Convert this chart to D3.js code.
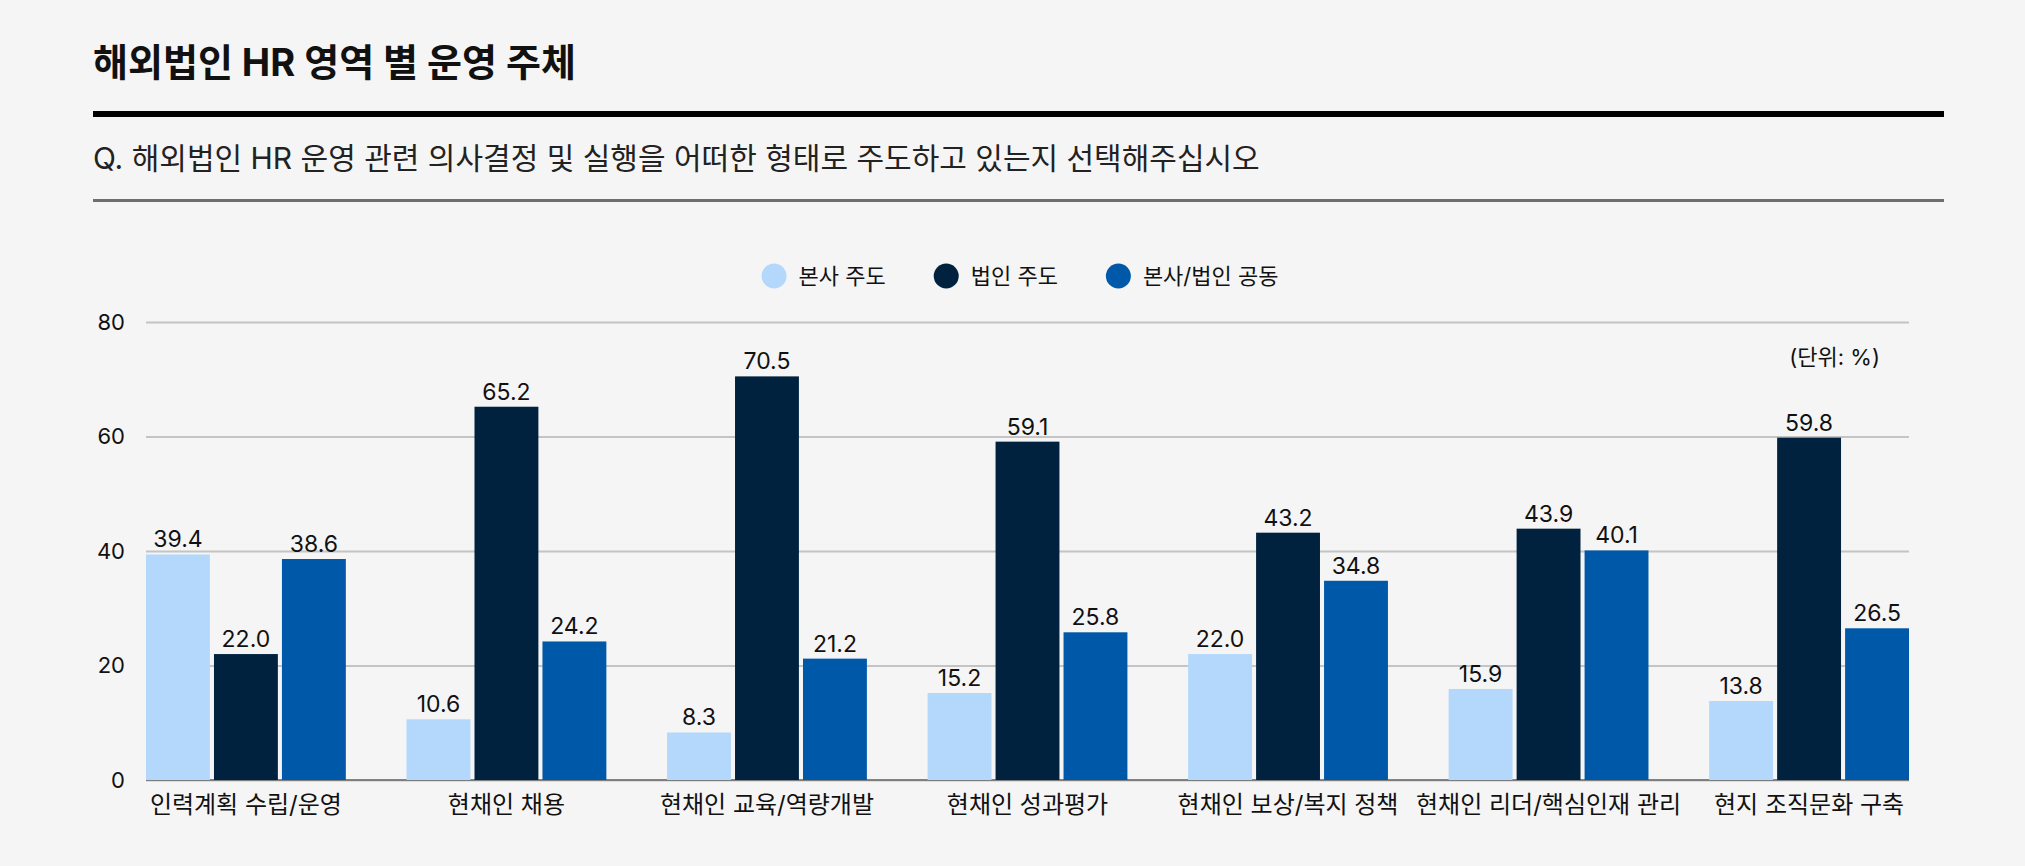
<!DOCTYPE html>
<html>
<head>
<meta charset="utf-8">
<script src="https://cdn.jsdelivr.net/npm/d3@7"></script>
<style>
  html, body { margin: 0; padding: 0; background: #f5f5f5; }
  svg { display: block; font-family: "Inter", "Noto Sans CJK KR", sans-serif; }
</style>
</head>
<body>
<script>
// chart data
var categories = ["인력계획 수립/운영", "현채인 채용", "현채인 교육/역량개발", "현채인 성과평가",
                  "현채인 보상/복지 정책", "현채인 리더/핵심인재 관리", "현지 조직문화 구축"];
var seriesNames = ["본사 주도", "법인 주도", "본사/법인 공동"];
var hqLead = [39.4, 10.6, 8.3, 15.2, 22.0, 15.9, 13.8];
var subLead = [22.0, 65.2, 70.5, 59.1, 43.2, 43.9, 59.8];
var joint = [38.6, 24.2, 21.2, 25.8, 34.8, 40.1, 26.5];
var yTicks = [0, 20, 40, 60, 80];
var colors = ["#b3d8fc", "#00223f", "#0058a8"];

var width = 2025;
var height = 866;
var margin = { left: 146, right: 116, top: 322, bottom: 86 };

var svg = d3.select("body").append("svg")
    .attr("width", width)
    .attr("height", height);

svg.append("rect").attr("width", width).attr("height", height).attr("fill", "#f5f5f5");

// header
svg.append("text")
    .attr("x", 93).attr("y", 76)
    .attr("font-size", "38px").attr("font-weight", 700)
    .attr("fill", "#111")
    .text("해외법인 HR 영역 별 운영 주체");

svg.append("rect").attr("x", 93).attr("y", 111).attr("width", 1851).attr("height", 6).attr("fill", "#000");

svg.append("text")
    .attr("x", 93).attr("y", 169)
    .attr("font-size", "30px")
    .attr("fill", "#222")
    .text("Q. 해외법인 HR 운영 관련 의사결정 및 실행을 어떠한 형태로 주도하고 있는지 선택해주십시오");

svg.append("rect").attr("x", 93).attr("y", 199).attr("width", 1851).attr("height", 3).attr("fill", "#6e6e6e");

// scales
var x0 = d3.scaleBand()
    .domain(categories)
    .range([margin.left, width - margin.right])
    .paddingInner(0.233)
    .paddingOuter(0);

var x1 = d3.scaleBand()
    .domain(d3.range(3))
    .range([0, x0.bandwidth()])
    .paddingInner(0.06);

var y = d3.scaleLinear()
    .domain([0, 80])
    .range([height - margin.bottom, margin.top]);

// gridlines
var yAxis = d3.axisLeft(y)
    .tickValues(yTicks)
    .tickSize(-(width - margin.left - margin.right))
    .tickPadding(21);

var gy = svg.append("g")
    .attr("transform", "translate(" + margin.left + ",0)")
    .call(yAxis);
gy.select(".domain").remove();
gy.selectAll(".tick line").attr("stroke", "#c4c4c4").attr("stroke-width", 2);
gy.selectAll(".tick text")
    .attr("font-size", "22px")
    .attr("font-family", "Inter, sans-serif")
    .attr("fill", "#111");

// baseline
svg.append("line")
    .attr("x1", margin.left).attr("x2", width - margin.right)
    .attr("y1", y(0)).attr("y2", y(0))
    .attr("stroke", "#666").attr("stroke-width", 1.5);

// bars
var rows = categories.map(function(c, i) {
    return { cat: c, values: [hqLead[i], subLead[i], joint[i]] };
});

var groups = svg.selectAll(".grp")
    .data(rows)
    .enter().append("g")
    .attr("class", "grp")
    .attr("transform", function(d) { return "translate(" + x0(d.cat) + ",0)"; });

groups.selectAll("rect")
    .data(function(d) { return d.values; })
    .enter().append("rect")
    .attr("x", function(d, i) { return x1(i); })
    .attr("y", function(d) { return y(d); })
    .attr("width", x1.bandwidth())
    .attr("height", function(d) { return y(0) - y(d); })
    .attr("fill", function(d, i) { return colors[i]; });

groups.selectAll(".val")
    .data(function(d) { return d.values; })
    .enter().append("text")
    .attr("class", "val")
    .attr("x", function(d, i) { return x1(i) + x1.bandwidth() / 2; })
    .attr("y", function(d) { return y(d) - 7; })
    .attr("text-anchor", "middle")
    .attr("font-size", "23px")
    .attr("fill", "#111")
    .text(function(d) { return d.toFixed(1); });

// category labels
svg.selectAll(".cat")
    .data(categories)
    .enter().append("text")
    .attr("class", "cat")
    .attr("x", function(d) { return x0(d) + x0.bandwidth() / 2; })
    .attr("y", 813)
    .attr("text-anchor", "middle")
    .attr("font-size", "24px")
    .attr("fill", "#111")
    .text(function(d) { return d; });

// unit note
svg.append("text")
    .attr("x", 1880).attr("y", 365)
    .attr("text-anchor", "end")
    .attr("font-size", "22px")
    .attr("fill", "#111")
    .text("(단위: %)");

// legend
var legend = svg.append("g");
var lx = 0;
seriesNames.forEach(function(name, i) {
    var item = legend.append("g").attr("transform", "translate(" + lx + ",0)");
    item.append("circle").attr("cx", 12.5).attr("cy", 0).attr("r", 12.5).attr("fill", colors[i]);
    var t = item.append("text")
        .attr("x", 37).attr("y", 8)
        .attr("font-size", "22px")
        .attr("fill", "#111")
        .text(name);
    lx += 37 + t.node().getComputedTextLength() + 48;
});
var legendWidth = lx - 48;
legend.attr("transform", "translate(" + (1020 - legendWidth / 2) + ",276)");
</script>
</body>
</html>
